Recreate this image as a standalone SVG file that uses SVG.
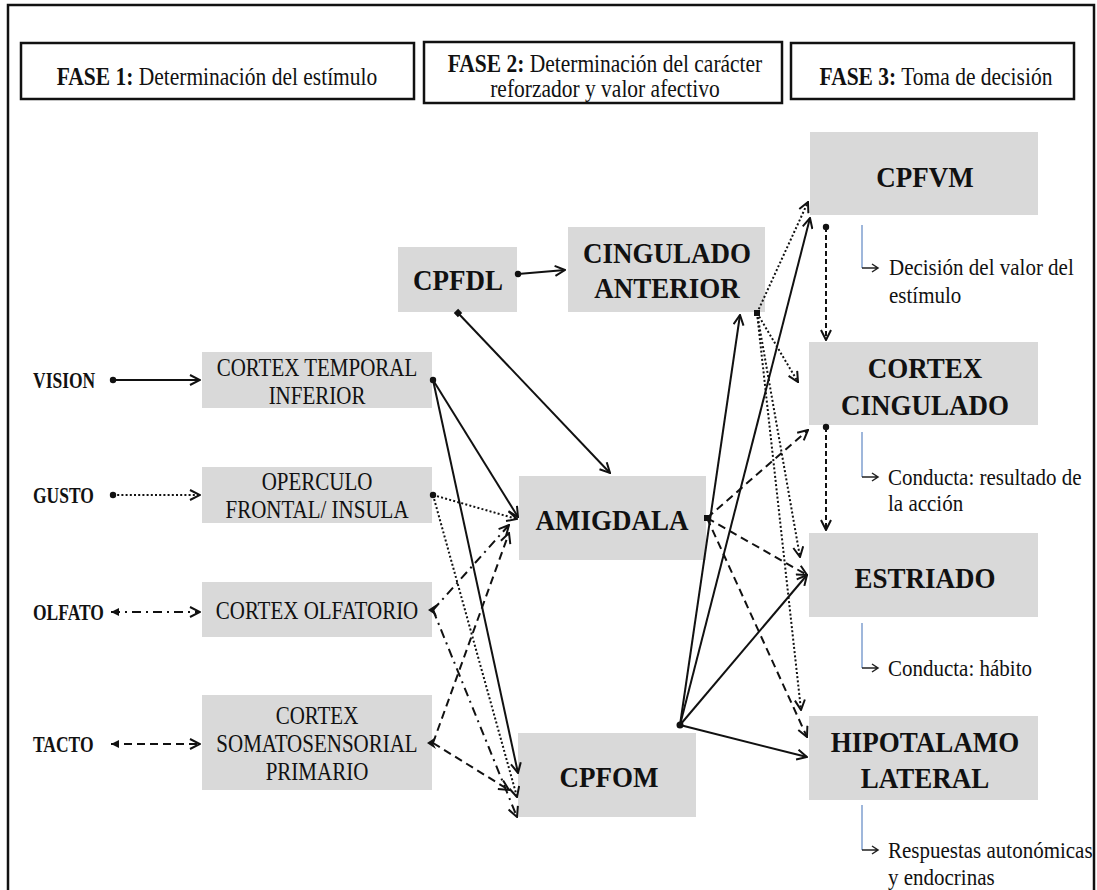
<svg xmlns="http://www.w3.org/2000/svg" width="1097" height="890" viewBox="0 0 1097 890">
  <style>
    text { font-family: "Liberation Serif", "Times New Roman", serif; fill: #111; }
    .hdr { font-size: 21.5px; text-anchor: middle; }
    .sm { font-size: 21px; text-anchor: middle; }
    .big { font-size: 27px; font-weight: bold; text-anchor: middle; }
    .sense { font-size: 17.5px; font-weight: bold; }
    .note { font-size: 21px; }
    .box { fill: #d9d9d9; }
    .phase { fill: #fff; stroke: #111; stroke-width: 2.5; }
    .ln { fill: none; stroke: #111; stroke-width: 2; marker-end: url(#arr); }
    .dot { stroke-dasharray: 2 2.2; }
    .dash { stroke-dasharray: 8 5; }
    .dashdot { stroke-dasharray: 9 5 2 5; }
    .vdash { stroke-dasharray: 5 3; }
    .blue { stroke: #7f9fcf; stroke-width: 1.5; fill: none; }
    .tick { stroke: #222; stroke-width: 1.5; fill: none; }
  </style>
  <defs>
    <marker id="arr" viewBox="0 0 12 12" refX="11" refY="6" markerWidth="12" markerHeight="12" markerUnits="userSpaceOnUse" orient="auto">
      <path d="M1,1 L11,6 L1,11" fill="none" stroke="#111" stroke-width="2" stroke-dasharray="none"/>
    </marker>
    <marker id="dotStart" viewBox="0 0 8 8" refX="4" refY="4" markerWidth="8" markerHeight="8" markerUnits="userSpaceOnUse" orient="auto">
      <circle cx="4" cy="4" r="3.2" fill="#111"/>
    </marker>
    <marker id="sqStart" viewBox="0 0 8 8" refX="4" refY="4" markerWidth="8" markerHeight="8" markerUnits="userSpaceOnUse" orient="auto">
      <rect x="1" y="1" width="6" height="6" fill="#111"/>
    </marker>
    <marker id="triStart" viewBox="0 0 10 10" refX="9" refY="5" markerWidth="10" markerHeight="10" markerUnits="userSpaceOnUse" orient="auto-start-reverse">
      <path d="M1,1 L9,5 L1,9 Z" fill="#111"/>
    </marker>
  </defs>

  <rect width="1097" height="890" fill="#fff"/>
  <!-- outer frame, open past the lower edge -->
  <rect x="8" y="5" width="1086" height="900" fill="none" stroke="#111" stroke-width="2.5"/>

  <!-- phase headers -->
  <g id="fase1">
    <rect class="phase" x="21" y="43" width="393" height="56"/>
    <text class="hdr" transform="translate(217,77) scale(1,1.17)" y="7.1"><tspan font-weight="bold">FASE 1:</tspan> Determinación del estímulo</text>
  </g>
  <g id="fase2">
    <rect class="phase" x="424" y="42" width="358" height="61"/>
    <text class="hdr" transform="translate(605,64) scale(1,1.17)"><tspan x="0" y="7.1"><tspan font-weight="bold">FASE 2:</tspan> Determinación del carácter</tspan><tspan x="0" y="28.5">reforzador y valor afectivo</tspan></text>
  </g>
  <g id="fase3">
    <rect class="phase" x="791" y="43" width="283" height="56"/>
    <text class="hdr" transform="translate(936,77) scale(1,1.17)" y="7.1"><tspan font-weight="bold">FASE 3:</tspan> Toma de decisión</text>
  </g>

  <!-- sensory inputs -->
  <g id="vision"><text class="sense" transform="translate(33,380) scale(1,1.3)" y="5.8">VISION</text></g>
  <g id="gusto"><text class="sense" transform="translate(33,495) scale(1,1.3)" y="5.8">GUSTO</text></g>
  <g id="olfato"><text class="sense" transform="translate(33,612) scale(1,1.3)" y="5.8">OLFATO</text></g>
  <g id="tacto"><text class="sense" transform="translate(33,744) scale(1,1.3)" y="5.8">TACTO</text></g>

  <!-- phase 1 areas -->
  <g id="cortex-temporal">
    <rect class="box" x="202" y="352" width="230" height="56"/>
    <text class="sm" transform="translate(317,368) scale(1,1.15)"><tspan x="0" y="7">CORTEX TEMPORAL</tspan><tspan x="0" y="31.3">INFERIOR</tspan></text>
  </g>
  <g id="operculo">
    <rect class="box" x="202" y="467" width="230" height="56"/>
    <text class="sm" transform="translate(317,482) scale(1,1.15)"><tspan x="0" y="7">OPERCULO</tspan><tspan x="0" y="31.3">FRONTAL/ INSULA</tspan></text>
  </g>
  <g id="cortex-olfatorio">
    <rect class="box" x="202" y="582" width="230" height="55"/>
    <text class="sm" transform="translate(317,611) scale(1,1.15)" y="7">CORTEX OLFATORIO</text>
  </g>
  <g id="cortex-somatosensorial">
    <rect class="box" x="202" y="695" width="230" height="95"/>
    <text class="sm" transform="translate(317,716) scale(1,1.15)"><tspan x="0" y="7">CORTEX</tspan><tspan x="0" y="31.3">SOMATOSENSORIAL</tspan><tspan x="0" y="55.7">PRIMARIO</tspan></text>
  </g>

  <!-- phase 2 areas -->
  <g id="cpfdl">
    <rect class="box" x="398" y="247" width="119" height="65"/>
    <text class="big" transform="translate(458,280) scale(1,1.08)" y="8.9">CPFDL</text>
  </g>
  <g id="cingulado-anterior">
    <rect class="box" x="568" y="227" width="197" height="85"/>
    <text class="big" transform="translate(667,253) scale(1,1.08)"><tspan x="0" y="8.9">CINGULADO</tspan><tspan x="0" y="41.3">ANTERIOR</tspan></text>
  </g>
  <g id="amigdala">
    <rect class="box" x="519" y="476" width="187" height="84"/>
    <text class="big" transform="translate(612,520) scale(1,1.08)" y="8.9">AMIGDALA</text>
  </g>
  <g id="cpfom">
    <rect class="box" x="518" y="733" width="178" height="84"/>
    <text class="big" transform="translate(609,777) scale(1,1.08)" y="8.9">CPFOM</text>
  </g>

  <!-- phase 3 areas -->
  <g id="cpfvm">
    <rect class="box" x="810" y="132" width="228" height="83"/>
    <text class="big" transform="translate(925,177) scale(1,1.08)" y="8.9">CPFVM</text>
  </g>
  <g id="cortex-cingulado">
    <rect class="box" x="809" y="342" width="229" height="83"/>
    <text class="big" transform="translate(925,368) scale(1,1.08)"><tspan x="0" y="8.9">CORTEX</tspan><tspan x="0" y="43.2">CINGULADO</tspan></text>
  </g>
  <g id="estriado">
    <rect class="box" x="809" y="533" width="229" height="84"/>
    <text class="big" transform="translate(925,578) scale(1,1.08)" y="8.9">ESTRIADO</text>
  </g>
  <g id="hipotalamo">
    <rect class="box" x="809" y="716" width="229" height="84"/>
    <text class="big" transform="translate(925,742) scale(1,1.08)"><tspan x="0" y="8.9">HIPOTALAMO</tspan><tspan x="0" y="42.2">LATERAL</tspan></text>
  </g>

  <!-- outcome notes -->
  <g id="nota-valor">
    <path class="blue" d="M862,225 V268"/>
    <path class="tick" d="M862,268 H878 M872,264 L878,268 L872,272"/>
    <text class="note" transform="translate(889,267) scale(1,1.1)"><tspan x="0" y="7">Decisión del valor del</tspan><tspan x="0" y="32.5">estímulo</tspan></text>
  </g>
  <g id="nota-resultado">
    <path class="blue" d="M862,432 V477"/>
    <path class="tick" d="M862,477 H878 M872,473 L878,477 L872,481"/>
    <text class="note" transform="translate(888,477) scale(1,1.1)"><tspan x="0" y="7">Conducta: resultado de</tspan><tspan x="0" y="30.6">la acción</tspan></text>
  </g>
  <g id="nota-habito">
    <path class="blue" d="M862,623 V668"/>
    <path class="tick" d="M862,668 H878 M872,664 L878,668 L872,672"/>
    <text class="note" transform="translate(888,668) scale(1,1.1)" y="7">Conducta: hábito</text>
  </g>
  <g id="nota-respuestas">
    <path class="blue" d="M862,805 V850"/>
    <path class="tick" d="M862,850 H878 M872,846 L878,850 L872,854"/>
    <text class="note" transform="translate(888,850) scale(1,1.1)"><tspan x="0" y="7">Respuestas autonómicas</tspan><tspan x="0" y="31.5">y endocrinas</tspan></text>
  </g>

  <!-- connectors -->
  <g id="connectors">
    <!-- senses into phase 1 -->
    <path class="ln" d="M113,380 H200" marker-start="url(#dotStart)"/>
    <path class="ln dot" d="M113,495 H200" marker-start="url(#dotStart)"/>
    <path class="ln dashdot" d="M111,612 H200" marker-start="url(#triStart)"/>
    <path class="ln dash" d="M111,744 H200" marker-start="url(#triStart)"/>

    <!-- phase 1 into amigdala / CPFOM -->
    <path class="ln" d="M433,380 L518,517"/>
    <path class="ln" d="M433,380 L518,773"/>
    <path class="ln dot" d="M433,495 L517,519"/>
    <path class="ln dot" d="M433,495 L517,797"/>
    <path class="ln dashdot" d="M433,610 L509,525"/>
    <path class="ln dashdot" d="M433,610 L517,817"/>
    <path class="ln dash" d="M433,743 L509,533"/>
    <path class="ln dash" d="M433,743 L509,790"/>

    <!-- CPFDL -->
    <path class="ln" d="M518,274 L565,270" marker-start="url(#dotStart)"/>
    <path class="ln" d="M458,313 L610,473" marker-start="url(#sqStart)"/>

    <!-- cingulado anterior into phase 3 -->
    <path class="ln dot" d="M757,313 L808,202"/>
    <path class="ln dot" d="M757,313 L798,382"/>
    <path class="ln dot" d="M757,313 L800,557"/>
    <path class="ln dot" d="M757,313 L801,710"/>

    <!-- amigdala into phase 3 -->
    <path class="ln dash" d="M707,518 L808,430"/>
    <path class="ln dash" d="M707,518 L807,575"/>
    <path class="ln dash" d="M707,518 L807,737"/>

    <!-- CPFOM outputs -->
    <path class="ln" d="M680,725 L740,315"/>
    <path class="ln" d="M680,725 L810,218"/>
    <path class="ln" d="M680,725 L807,575"/>
    <path class="ln" d="M680,725 L807,757"/>

    <!-- phase 3 chain -->
    <path class="ln vdash" d="M826,227 V340" marker-start="url(#dotStart)"/>
    <path class="ln vdash" d="M826,427 V530" marker-start="url(#dotStart)"/>

    <!-- source points -->
    <circle cx="433" cy="380" r="3.2" fill="#111"/>
    <circle cx="433" cy="495" r="3.2" fill="#111"/>
    <path d="M428,610 L437,604 L434,610 L437,616 Z" fill="#111"/>
    <path d="M427,743 L436,737 L433,743 L436,749 Z" fill="#111"/>
    <rect x="754" y="310" width="6" height="6" fill="#111"/>
    <rect x="704" y="515" width="6" height="6" fill="#111"/>
    <circle cx="680" cy="725" r="3.5" fill="#111"/>
  </g>
</svg>
